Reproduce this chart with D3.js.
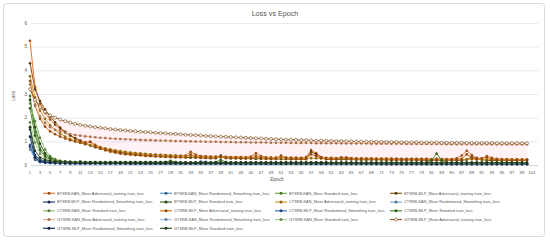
<!DOCTYPE html>
<html><head><meta charset="utf-8">
<script src="https://cdn.jsdelivr.net/npm/d3@7"></script>
<style>body{margin:0;background:#fff}svg{display:block}text{font-family:"Liberation Sans",Arial,sans-serif}</style>
</head><body><svg id="c" width="550" height="242"></svg>
<script>
const epochs = [1,2,3,4,5,6,7,8,9,10,11,12,13,14,15,16,17,18,19,20,21,22,23,24,25,26,27,28,29,30,31,32,33,34,35,36,37,38,39,40,41,42,43,44,45,46,47,48,49,50,51,52,53,54,55,56,57,58,59,60,61,62,63,64,65,66,67,68,69,70,71,72,73,74,75,76,77,78,79,80,81,82,83,84,85,86,87,88,89,90,91,92,93,94,95,96,97,98,99,100];
const xCategories = epochs.concat([101]);
const xTickLabels = [1,3,5,7,9,11,13,15,17,19,21,23,25,27,29,31,33,35,37,39,41,43,45,47,49,51,53,55,57,59,61,63,65,67,69,71,73,75,77,79,81,83,85,87,89,91,93,95,97,99,101];
const yTickLabels = [0,1,2,3,4,5,6];

const seriesNames = [
"BTSRB-KAN_Mixer Adversarial_training train_loss","BTSRB-KAN_Mixer Randomized_Smoothing train_loss","BTSRB-KAN_Mixer Standard train_loss","BTSRB-MLP_Mixer Adversarial_training train_loss",
"BTSRB-MLP_Mixer Randomized_Smoothing train_loss","BTSRB-MLP_Mixer Standard train_loss","CTSRB-KAN_Mixer Adversarial_training train_loss","CTSRB-KAN_Mixer Randomized_Smoothing train_loss",
"CTSRB-KAN_Mixer Standard train_loss","CTSRB-MLP_Mixer Adversarial_training train_loss","CTSRB-MLP_Mixer Randomized_Smoothing train_loss","CTSRB-MLP_Mixer Standard train_loss",
"GTSRB-KAN_Mixer Adversarial_training train_loss","GTSRB-KAN_Mixer Randomized_Smoothing train_loss","GTSRB-KAN_Mixer Standard train_loss","GTSRB-MLP_Mixer Adversarial_training train_loss",
"GTSRB-MLP_Mixer Randomized_Smoothing train_loss","GTSRB-MLP_Mixer Standard train_loss"];

const bkAdv = [5.25,3.30,2.60,2.20,1.92,1.70,1.52,1.38,1.25,1.14,
1.04,0.96,0.99,0.85,0.76,0.69,0.63,0.59,0.55,0.52,
0.50,0.48,0.46,0.45,0.44,0.43,0.42,0.41,0.40,0.40,
0.39,0.40,0.56,0.44,0.38,0.37,0.36,0.36,0.35,0.35,
0.34,0.34,0.34,0.33,0.36,0.51,0.38,0.33,0.32,0.32,
0.32,0.31,0.31,0.31,0.30,0.34,0.63,0.50,0.34,0.30,
0.30,0.29,0.29,0.33,0.29,0.28,0.28,0.28,0.28,0.27,
0.27,0.27,0.27,0.27,0.26,0.26,0.26,0.26,0.26,0.26,
0.25,0.26,0.25,0.25,0.25,0.28,0.40,0.60,0.42,0.30,
0.27,0.38,0.30,0.26,0.25,0.25,0.24,0.24,0.24,0.24];
const bkRs = [0.85,0.35,0.22,0.16,0.13,0.11,0.10,0.09,0.08,0.08,
0.07,0.07,0.07,0.07,0.06,0.06,0.06,0.06,0.06,0.06,
0.06,0.06,0.06,0.05,0.05,0.05,0.05,0.05,0.05,0.05,
0.05,0.05,0.05,0.05,0.05,0.05,0.05,0.05,0.05,0.05,
0.05,0.05,0.05,0.05,0.05,0.05,0.05,0.05,0.05,0.05,
0.05,0.05,0.05,0.05,0.05,0.05,0.05,0.05,0.05,0.05,
0.05,0.05,0.04,0.04,0.04,0.04,0.04,0.04,0.04,0.04,
0.04,0.04,0.04,0.04,0.04,0.04,0.04,0.04,0.04,0.04,
0.04,0.04,0.04,0.04,0.04,0.04,0.04,0.04,0.04,0.04,
0.04,0.04,0.04,0.04,0.04,0.04,0.04,0.04,0.04,0.04];
const bkStd = [2.92,1.40,0.72,0.42,0.28,0.20,0.16,0.13,0.11,0.10,
0.09,0.09,0.08,0.08,0.07,0.07,0.07,0.06,0.06,0.06,
0.06,0.06,0.06,0.05,0.05,0.05,0.05,0.05,0.10,0.06,
0.05,0.05,0.05,0.05,0.05,0.05,0.05,0.05,0.05,0.05,
0.05,0.05,0.04,0.04,0.04,0.04,0.04,0.04,0.04,0.04,
0.04,0.04,0.04,0.04,0.04,0.04,0.04,0.04,0.04,0.04,
0.04,0.04,0.04,0.04,0.04,0.04,0.04,0.04,0.04,0.04,
0.04,0.04,0.03,0.03,0.03,0.03,0.03,0.03,0.03,0.03,
0.03,0.03,0.03,0.03,0.03,0.03,0.03,0.03,0.03,0.03,
0.03,0.03,0.03,0.03,0.03,0.03,0.03,0.03,0.03,0.03];
const bmAdv = [4.30,3.20,2.70,2.35,2.05,1.80,1.58,1.40,1.25,1.12,
1.00,0.90,0.82,0.75,0.69,0.64,0.60,0.56,0.52,0.49,
0.46,0.44,0.42,0.40,0.39,0.37,0.36,0.35,0.34,0.33,
0.33,0.32,0.31,0.31,0.30,0.30,0.29,0.29,0.40,0.30,
0.28,0.28,0.27,0.27,0.27,0.26,0.26,0.26,0.25,0.25,
0.25,0.25,0.24,0.24,0.24,0.24,0.56,0.45,0.30,0.24,
0.23,0.23,0.23,0.23,0.23,0.22,0.22,0.22,0.22,0.22,
0.22,0.21,0.21,0.21,0.21,0.21,0.21,0.21,0.20,0.20,
0.20,0.20,0.20,0.20,0.20,0.20,0.20,0.22,0.34,0.26,
0.22,0.20,0.19,0.19,0.19,0.19,0.19,0.19,0.19,0.19];
const bmRs = [1.50,0.42,0.22,0.16,0.13,0.12,0.11,0.10,0.10,0.09,
0.09,0.09,0.08,0.08,0.08,0.08,0.08,0.07,0.07,0.07,
0.07,0.07,0.07,0.07,0.07,0.06,0.06,0.06,0.06,0.06,
0.06,0.06,0.06,0.06,0.06,0.06,0.06,0.06,0.06,0.06,
0.06,0.06,0.06,0.06,0.06,0.06,0.06,0.06,0.06,0.06,
0.06,0.06,0.05,0.05,0.05,0.05,0.05,0.05,0.05,0.05,
0.05,0.05,0.05,0.05,0.05,0.05,0.05,0.05,0.05,0.05,
0.05,0.05,0.05,0.05,0.05,0.05,0.05,0.05,0.05,0.05,
0.05,0.05,0.05,0.05,0.05,0.05,0.05,0.05,0.05,0.05,
0.05,0.05,0.05,0.05,0.05,0.05,0.05,0.05,0.05,0.05];
const bmStd = [2.75,1.60,0.90,0.50,0.32,0.22,0.17,0.14,0.12,0.11,
0.11,0.10,0.10,0.10,0.10,0.10,0.10,0.10,0.10,0.10,
0.10,0.10,0.10,0.10,0.10,0.10,0.10,0.10,0.10,0.10,
0.09,0.09,0.09,0.09,0.09,0.09,0.09,0.09,0.09,0.09,
0.09,0.09,0.09,0.09,0.09,0.09,0.09,0.09,0.09,0.09,
0.09,0.09,0.09,0.09,0.09,0.09,0.09,0.09,0.09,0.09,
0.08,0.08,0.08,0.08,0.08,0.08,0.08,0.08,0.08,0.08,
0.08,0.08,0.08,0.08,0.08,0.08,0.08,0.08,0.08,0.08,
0.08,0.08,0.08,0.08,0.08,0.08,0.08,0.08,0.08,0.08,
0.08,0.08,0.08,0.08,0.08,0.08,0.08,0.08,0.08,0.08];
const ckAdv = [3.75,2.85,2.30,1.95,1.68,1.48,1.32,1.20,1.10,1.02,
0.95,0.89,0.84,0.79,0.74,0.70,0.66,0.62,0.59,0.56,
0.53,0.51,0.49,0.47,0.45,0.44,0.43,0.42,0.41,0.40,
0.39,0.38,0.38,0.37,0.36,0.36,0.35,0.35,0.34,0.34,
0.33,0.33,0.33,0.32,0.32,0.32,0.31,0.31,0.31,0.30,
0.30,0.30,0.30,0.29,0.29,0.29,0.29,0.28,0.28,0.28,
0.28,0.28,0.27,0.27,0.27,0.27,0.27,0.26,0.26,0.26,
0.26,0.26,0.26,0.25,0.25,0.25,0.25,0.25,0.25,0.25,
0.24,0.24,0.24,0.24,0.24,0.24,0.24,0.24,0.24,0.23,
0.23,0.23,0.23,0.23,0.23,0.23,0.23,0.23,0.23,0.23];
const ckRs = [0.75,0.30,0.18,0.14,0.12,0.10,0.09,0.09,0.08,0.08,
0.08,0.08,0.07,0.07,0.07,0.07,0.07,0.07,0.07,0.07,
0.07,0.07,0.07,0.07,0.07,0.07,0.07,0.07,0.07,0.07,
0.07,0.07,0.07,0.08,0.15,0.14,0.08,0.07,0.07,0.07,
0.06,0.06,0.06,0.06,0.06,0.06,0.06,0.06,0.06,0.06,
0.06,0.06,0.06,0.06,0.06,0.06,0.06,0.06,0.06,0.06,
0.06,0.06,0.06,0.06,0.06,0.06,0.06,0.06,0.06,0.06,
0.05,0.05,0.05,0.05,0.05,0.05,0.05,0.05,0.05,0.05,
0.05,0.05,0.05,0.05,0.05,0.05,0.05,0.05,0.05,0.05,
0.05,0.05,0.05,0.05,0.05,0.05,0.05,0.05,0.05,0.05];
const ckStd = [2.60,1.85,1.15,0.65,0.38,0.25,0.18,0.14,0.12,0.10,
0.09,0.09,0.08,0.08,0.08,0.07,0.07,0.07,0.07,0.07,
0.06,0.06,0.06,0.06,0.06,0.06,0.06,0.06,0.06,0.06,
0.06,0.06,0.06,0.06,0.06,0.06,0.06,0.06,0.06,0.06,
0.05,0.05,0.05,0.05,0.05,0.05,0.05,0.05,0.05,0.05,
0.05,0.05,0.05,0.05,0.05,0.05,0.05,0.05,0.05,0.05,
0.05,0.05,0.05,0.05,0.05,0.05,0.05,0.05,0.05,0.05,
0.05,0.05,0.05,0.05,0.05,0.05,0.05,0.05,0.05,0.05,
0.05,0.05,0.05,0.05,0.05,0.05,0.05,0.05,0.05,0.05,
0.05,0.05,0.05,0.05,0.05,0.05,0.05,0.05,0.05,0.05];
const cmAdv = [3.55,2.50,1.95,1.62,1.42,1.30,1.20,1.12,1.05,0.99,
0.93,0.88,0.97,0.80,0.70,0.62,0.56,0.52,0.48,0.45,
0.43,0.41,0.40,0.38,0.37,0.36,0.35,0.34,0.34,0.33,
0.33,0.32,0.45,0.35,0.31,0.31,0.30,0.30,0.33,0.30,
0.29,0.29,0.29,0.28,0.28,0.40,0.30,0.28,0.27,0.27,
0.40,0.30,0.27,0.26,0.26,0.26,0.45,0.38,0.28,0.26,
0.26,0.25,0.33,0.28,0.25,0.25,0.25,0.24,0.24,0.24,
0.24,0.24,0.24,0.23,0.23,0.23,0.23,0.23,0.23,0.23,
0.22,0.22,0.22,0.22,0.22,0.22,0.26,0.45,0.30,0.24,
0.28,0.32,0.25,0.22,0.22,0.21,0.21,0.21,0.21,0.21];
const cmRs = [0.80,0.22,0.12,0.09,0.08,0.07,0.06,0.06,0.05,0.05,
0.05,0.05,0.05,0.05,0.05,0.05,0.05,0.05,0.05,0.05,
0.05,0.05,0.05,0.05,0.05,0.05,0.05,0.05,0.05,0.05,
0.05,0.05,0.05,0.05,0.05,0.05,0.05,0.05,0.05,0.05,
0.05,0.05,0.05,0.05,0.05,0.05,0.05,0.05,0.05,0.05,
0.05,0.05,0.09,0.05,0.05,0.05,0.09,0.05,0.04,0.04,
0.04,0.04,0.04,0.04,0.04,0.04,0.04,0.04,0.04,0.04,
0.04,0.04,0.04,0.04,0.04,0.04,0.04,0.08,0.09,0.05,
0.04,0.04,0.04,0.04,0.04,0.04,0.04,0.04,0.04,0.04,
0.04,0.04,0.04,0.04,0.04,0.04,0.04,0.04,0.04,0.04];
const cmStd = [2.40,1.25,0.62,0.36,0.24,0.18,0.15,0.13,0.12,0.11,
0.11,0.11,0.11,0.10,0.10,0.10,0.10,0.10,0.10,0.10,
0.10,0.10,0.10,0.10,0.10,0.10,0.10,0.12,0.18,0.11,
0.10,0.10,0.10,0.10,0.10,0.10,0.10,0.12,0.22,0.12,
0.10,0.10,0.10,0.10,0.10,0.10,0.10,0.10,0.10,0.10,
0.10,0.10,0.10,0.10,0.10,0.10,0.10,0.10,0.10,0.10,
0.10,0.10,0.10,0.10,0.10,0.10,0.10,0.10,0.10,0.10,
0.10,0.10,0.10,0.10,0.10,0.10,0.10,0.10,0.10,0.10,
0.20,0.48,0.20,0.10,0.10,0.10,0.10,0.10,0.10,0.10,
0.10,0.10,0.10,0.10,0.10,0.10,0.10,0.10,0.10,0.10];
const gkAdv = [3.40,2.55,2.05,1.78,1.60,1.49,1.42,1.36,1.31,1.27,
1.24,1.21,1.19,1.17,1.15,1.14,1.12,1.11,1.10,1.09,
1.08,1.07,1.06,1.05,1.05,1.04,1.03,1.03,1.02,1.01,
1.01,1.00,1.00,0.99,0.99,0.98,0.98,0.98,0.97,0.97,
0.97,0.96,0.96,0.96,0.95,0.95,0.95,0.95,0.94,0.94,
0.94,0.94,0.93,0.93,0.93,0.93,0.93,0.92,0.92,0.92,
0.92,0.92,0.91,0.91,0.91,0.91,0.91,0.91,0.90,0.90,
0.90,0.90,0.90,0.90,0.90,0.89,0.89,0.89,0.89,0.89,
0.89,0.89,0.89,0.88,0.88,0.88,0.88,0.88,0.88,0.88,
0.88,0.88,0.87,0.87,0.87,0.87,0.87,0.87,0.87,0.87];
const gkRs = [0.65,0.26,0.16,0.12,0.10,0.09,0.08,0.07,0.07,0.06,
0.06,0.06,0.06,0.06,0.06,0.06,0.06,0.06,0.06,0.06,
0.06,0.06,0.06,0.06,0.06,0.06,0.06,0.06,0.06,0.06,
0.05,0.05,0.05,0.05,0.05,0.05,0.05,0.05,0.05,0.05,
0.05,0.05,0.05,0.05,0.05,0.05,0.05,0.05,0.05,0.05,
0.05,0.05,0.05,0.05,0.05,0.05,0.05,0.05,0.05,0.05,
0.05,0.05,0.05,0.05,0.05,0.05,0.05,0.05,0.05,0.05,
0.04,0.04,0.04,0.04,0.04,0.04,0.04,0.04,0.04,0.04,
0.04,0.04,0.04,0.04,0.04,0.04,0.04,0.04,0.04,0.04,
0.04,0.04,0.04,0.04,0.04,0.04,0.04,0.04,0.04,0.04];
const gkStd = [1.80,0.95,0.48,0.28,0.18,0.13,0.10,0.09,0.08,0.07,
0.17,0.07,0.06,0.06,0.06,0.06,0.06,0.06,0.06,0.06,
0.05,0.05,0.05,0.05,0.05,0.05,0.05,0.05,0.05,0.05,
0.05,0.05,0.05,0.05,0.05,0.05,0.05,0.05,0.05,0.05,
0.05,0.05,0.05,0.05,0.05,0.05,0.05,0.05,0.05,0.05,
0.04,0.04,0.04,0.04,0.04,0.04,0.04,0.04,0.04,0.04,
0.04,0.04,0.04,0.04,0.04,0.04,0.04,0.04,0.04,0.04,
0.04,0.04,0.04,0.04,0.04,0.04,0.04,0.04,0.04,0.04,
0.04,0.04,0.04,0.04,0.04,0.04,0.04,0.04,0.04,0.04,
0.04,0.04,0.04,0.04,0.04,0.04,0.04,0.04,0.04,0.04];
const gmAdv = [3.20,2.75,2.45,2.25,2.10,2.00,1.92,1.85,1.79,1.74,
1.70,1.66,1.63,1.60,1.57,1.55,1.52,1.50,1.48,1.46,
1.44,1.42,1.41,1.39,1.38,1.36,1.35,1.34,1.32,1.31,
1.30,1.28,1.27,1.26,1.25,1.23,1.22,1.21,1.20,1.19,
1.18,1.17,1.16,1.15,1.14,1.13,1.12,1.11,1.10,1.09,
1.08,1.07,1.07,1.06,1.05,1.05,1.04,1.03,1.03,1.02,
1.02,1.01,1.01,1.00,1.00,0.99,0.99,0.99,0.98,0.98,
0.98,0.97,0.97,0.97,0.96,0.96,0.96,0.96,0.95,0.95,
0.95,0.95,0.94,0.94,0.94,0.94,0.94,0.93,0.93,0.93,
0.93,0.93,0.93,0.92,0.92,0.92,0.92,0.92,0.92,0.92];
const gmRs = [1.20,0.30,0.16,0.12,0.10,0.09,0.08,0.08,0.07,0.07,
0.07,0.07,0.07,0.07,0.07,0.07,0.07,0.07,0.07,0.07,
0.06,0.06,0.06,0.06,0.06,0.06,0.06,0.06,0.06,0.06,
0.06,0.06,0.06,0.06,0.06,0.06,0.06,0.06,0.06,0.06,
0.05,0.05,0.05,0.05,0.05,0.05,0.05,0.05,0.05,0.05,
0.05,0.05,0.05,0.05,0.05,0.05,0.05,0.05,0.05,0.05,
0.05,0.05,0.05,0.05,0.05,0.05,0.05,0.05,0.05,0.05,
0.04,0.04,0.04,0.04,0.04,0.04,0.04,0.04,0.04,0.04,
0.04,0.04,0.04,0.04,0.04,0.04,0.04,0.04,0.04,0.04,
0.04,0.04,0.04,0.04,0.04,0.04,0.04,0.04,0.04,0.04];
const gmStd = [1.60,0.60,0.32,0.22,0.17,0.15,0.14,0.13,0.13,0.12,
0.12,0.12,0.12,0.12,0.12,0.12,0.12,0.12,0.12,0.12,
0.12,0.12,0.12,0.12,0.12,0.12,0.12,0.12,0.12,0.12,
0.11,0.11,0.11,0.11,0.11,0.11,0.11,0.11,0.11,0.11,
0.11,0.11,0.11,0.11,0.11,0.11,0.11,0.11,0.11,0.11,
0.11,0.11,0.11,0.11,0.11,0.11,0.11,0.11,0.11,0.11,
0.10,0.10,0.10,0.10,0.10,0.10,0.10,0.10,0.10,0.10,
0.10,0.10,0.10,0.10,0.10,0.10,0.10,0.10,0.10,0.10,
0.10,0.10,0.10,0.10,0.10,0.10,0.10,0.10,0.10,0.10,
0.10,0.10,0.10,0.10,0.10,0.10,0.10,0.10,0.10,0.10];

const seriesValues = [bkAdv,bkRs,bkStd,bmAdv,bmRs,bmStd,ckAdv,ckRs,ckStd,cmAdv,cmRs,cmStd,gkAdv,gkRs,gkStd,gmAdv,gmRs,gmStd];
const seriesColors = ["#ED7D31","#5B9BD5","#70AD47","#8A5A14","#264478","#43682B","#D8A028","#7CAFDD","#8CC168","#D9731F","#3A6FC4","#4E8A2E","#F4B183","#9DC3E6","#A9D18E","#8A5A2B","#1F3864","#375623"];
const hollow = [false,false,false,false,false,false,false,false,false,false,false,false,false,false,false,true,false,false];
const advIdx = [0,3,6,9,12,15];

const svg = d3.select("#c");
svg.append("rect").attr("x",3.5).attr("y",3.5).attr("width",541).attr("height",233).attr("rx",3)
  .attr("fill","#fff").attr("stroke","#d9d9d9").attr("stroke-width",1);

const x = d3.scalePoint().domain(xCategories).range([30,532]);
const y = d3.scaleLinear().domain([0,6]).range([165,23]);

svg.append("g").selectAll("line").data(yTickLabels).join("line")
  .attr("x1",31).attr("x2",538).attr("y1",d=>y(d)+0.5).attr("y2",d=>y(d)+0.5)
  .attr("stroke",d=>d===0?"#d0d7e0":"#e3ebf5").attr("stroke-width",1);

svg.append("g").selectAll("text").data(yTickLabels).join("text")
  .attr("x",27).attr("y",d=>y(d)).attr("dy","0.35em").attr("text-anchor","end")
  .attr("font-size",4.6).attr("fill","#595959").text(d=>d);

svg.append("g").selectAll("text").data(xTickLabels).join("text")
  .attr("x",d=>x(d)).attr("y",172).attr("dy","0.35em").attr("text-anchor","middle")
  .attr("font-size",4.4).attr("fill","#595959").text(d=>d);

svg.append("text").attr("x",275).attr("y",13).attr("dy","0.35em").attr("text-anchor","middle")
  .attr("font-size",7.2).attr("fill","#595959").text("Loss vs Epoch");
svg.append("text").attr("x",277).attr("y",179.5).attr("dy","0.35em").attr("text-anchor","middle")
  .attr("font-size",4.8).attr("fill","#595959").text("Epoch");
svg.append("text").attr("transform","translate(13,96) rotate(-90)").attr("dy","0.35em").attr("text-anchor","middle")
  .attr("font-size",4.8).attr("fill","#595959").text("Loss");

const band = epochs.map((e,i)=>({e, hi:d3.max(advIdx,k=>seriesValues[k][i]), lo:d3.min(advIdx,k=>seriesValues[k][i])}));
svg.append("path").datum(band)
  .attr("d",d3.area().x(d=>x(d.e)).y0(d=>y(d.lo)).y1(d=>y(d.hi)))
  .attr("fill","#ffc9d3").attr("opacity",0.25);

const line = d3.line().x((d,i)=>x(epochs[i])).y(d=>y(d));
seriesValues.forEach((vals,k)=>{
  const g = svg.append("g");
  const c = seriesColors[k];
  g.append("path").datum(vals).attr("d",line).attr("fill","none").attr("stroke",c).attr("stroke-width",1);
  g.selectAll("circle").data(vals).join("circle")
    .attr("cx",(d,i)=>x(epochs[i])).attr("cy",d=>y(d)).attr("r",hollow[k]?1.5:1.3)
    .attr("fill",hollow[k]?"#fff":d3.color(c).darker(1.2)).attr("stroke",hollow[k]?c:"none").attr("stroke-width",0.7);
});

const colX = [43,160,275,390];
const leg = svg.append("g").selectAll("g").data(seriesNames).join("g")
  .attr("transform",(d,i)=>`translate(${colX[i%4]},${193.3+Math.floor(i/4)*8.75})`);
leg.append("line").attr("x1",0).attr("x2",12).attr("stroke",(d,i)=>seriesColors[i]).attr("stroke-width",1.2);
leg.append("circle").attr("cx",6).attr("r",1.5)
  .attr("fill",(d,i)=>hollow[i]?"#fff":d3.color(seriesColors[i]).darker(1.2))
  .attr("stroke",(d,i)=>hollow[i]?seriesColors[i]:"none").attr("stroke-width",0.7);
leg.append("text").attr("x",14).attr("dy","0.35em").attr("font-size",3.9).attr("fill","#595959").text(d=>d);
</script></body></html>
